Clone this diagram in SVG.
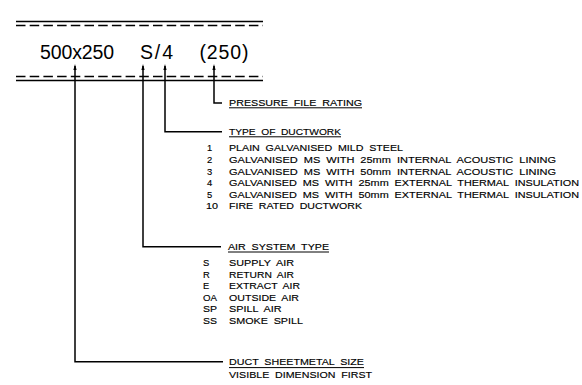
<svg xmlns="http://www.w3.org/2000/svg" width="582" height="385" viewBox="0 0 582 385">
<style>
.big{font-family:"Liberation Sans",Arial,sans-serif;font-size:19.5px;fill:#000}
.t{font-family:"Liberation Sans",Arial,sans-serif;font-size:9.4px;fill:#000;stroke:#000;stroke-width:0.15;word-spacing:2.5px}
.duct{stroke:#000;stroke-width:1.3;fill:none}
.dash{stroke-dasharray:9.5 4.2}
.conn{stroke:#000;stroke-width:1.5;fill:none}
.ul{stroke:#000;stroke-width:1}
</style>
<defs>
<path id="arr" d="M0,0 L1.6,6 L-1.6,6 Z" fill="#000"/>
</defs>
<rect width="582" height="385" fill="#fff"/>
<g id="duct">
<line class="duct" x1="16" y1="21.5" x2="263" y2="21.5"/>
<line class="duct dash" x1="16" y1="25.5" x2="263" y2="25.5"/>
<line class="duct dash" x1="16" y1="76.5" x2="263" y2="76.5"/>
<line class="duct" x1="16" y1="80.5" x2="263" y2="80.5"/>
<text class="big" x="40" y="59" textLength="74" lengthAdjust="spacing">500x250</text>
<text class="big" x="140" y="59" textLength="33" lengthAdjust="spacing">S/4</text>
<text class="big" x="199.5" y="59" textLength="49" lengthAdjust="spacing">(250)</text>
</g>
<g id="connectors">
<polyline class="conn" points="75,66 75,361.7 223,361.7"/>
<polyline class="conn" points="143,66 143,246.7 221,246.7"/>
<polyline class="conn" points="165,66 165,131.7 222,131.7"/>
<polyline class="conn" points="214,66 214,103 222,103"/>
<use href="#arr" x="75" y="64"/>
<use href="#arr" x="143" y="64"/>
<use href="#arr" x="165" y="64"/>
<use href="#arr" x="214" y="64"/>
</g>
<g id="pressure">
<text class="t" x="229" y="105.5" textLength="133" lengthAdjust="spacingAndGlyphs">PRESSURE FILE RATING</text>
<line class="ul" x1="229" y1="107.8" x2="362" y2="107.8"/>
</g>
<g id="type">
<text class="t" x="229" y="134.5" textLength="112" lengthAdjust="spacingAndGlyphs">TYPE OF DUCTWORK</text>
<line class="ul" x1="229" y1="136.8" x2="341" y2="136.8"/>
<text class="t" x="207" y="151.3">1</text>
<text class="t" x="229" y="151.3" textLength="174" lengthAdjust="spacingAndGlyphs">PLAIN GALVANISED MILD STEEL</text>
<text class="t" x="207" y="162.9">2</text>
<text class="t" x="229" y="162.9" textLength="327" lengthAdjust="spacingAndGlyphs">GALVANISED MS WITH 25mm INTERNAL ACOUSTIC LINING</text>
<text class="t" x="207" y="174.5">3</text>
<text class="t" x="229" y="174.5" textLength="327" lengthAdjust="spacingAndGlyphs">GALVANISED MS WITH 50mm INTERNAL ACOUSTIC LINING</text>
<text class="t" x="207" y="186.1">4</text>
<text class="t" x="229" y="186.1" textLength="350" lengthAdjust="spacingAndGlyphs">GALVANISED MS WITH 25mm EXTERNAL THERMAL INSULATION</text>
<text class="t" x="207" y="197.7">5</text>
<text class="t" x="229" y="197.7" textLength="350" lengthAdjust="spacingAndGlyphs">GALVANISED MS WITH 50mm EXTERNAL THERMAL INSULATION</text>
<text class="t" x="206" y="209.3" textLength="12" lengthAdjust="spacingAndGlyphs">10</text>
<text class="t" x="229" y="209.3" textLength="133" lengthAdjust="spacingAndGlyphs">FIRE RATED DUCTWORK</text>
</g>
<g id="airsystem">
<text class="t" x="228" y="249.7" textLength="101" lengthAdjust="spacingAndGlyphs">AIR SYSTEM TYPE</text>
<line class="ul" x1="228" y1="252" x2="329" y2="252"/>
<text class="t" x="203" y="266">S</text>
<text class="t" x="229" y="266" textLength="65" lengthAdjust="spacingAndGlyphs">SUPPLY AIR</text>
<text class="t" x="203" y="277.6">R</text>
<text class="t" x="229" y="277.6" textLength="65" lengthAdjust="spacingAndGlyphs">RETURN AIR</text>
<text class="t" x="203" y="289.2">E</text>
<text class="t" x="229" y="289.2" textLength="71" lengthAdjust="spacingAndGlyphs">EXTRACT AIR</text>
<text class="t" x="203" y="300.8" textLength="14" lengthAdjust="spacingAndGlyphs">OA</text>
<text class="t" x="229" y="300.8" textLength="70" lengthAdjust="spacingAndGlyphs">OUTSIDE AIR</text>
<text class="t" x="203" y="312.4" textLength="14" lengthAdjust="spacingAndGlyphs">SP</text>
<text class="t" x="229" y="312.4" textLength="52.5" lengthAdjust="spacingAndGlyphs">SPILL AIR</text>
<text class="t" x="203" y="324" textLength="14" lengthAdjust="spacingAndGlyphs">SS</text>
<text class="t" x="229" y="324" textLength="74" lengthAdjust="spacingAndGlyphs">SMOKE SPILL</text>
</g>
<g id="size">
<text class="t" x="229" y="365.3" textLength="135" lengthAdjust="spacingAndGlyphs">DUCT SHEETMETAL SIZE</text>
<line class="ul" x1="229" y1="367.6" x2="364" y2="367.6"/>
<text class="t" x="229" y="378" textLength="143" lengthAdjust="spacingAndGlyphs">VISIBLE DIMENSION FIRST</text>
</g>
</svg>
